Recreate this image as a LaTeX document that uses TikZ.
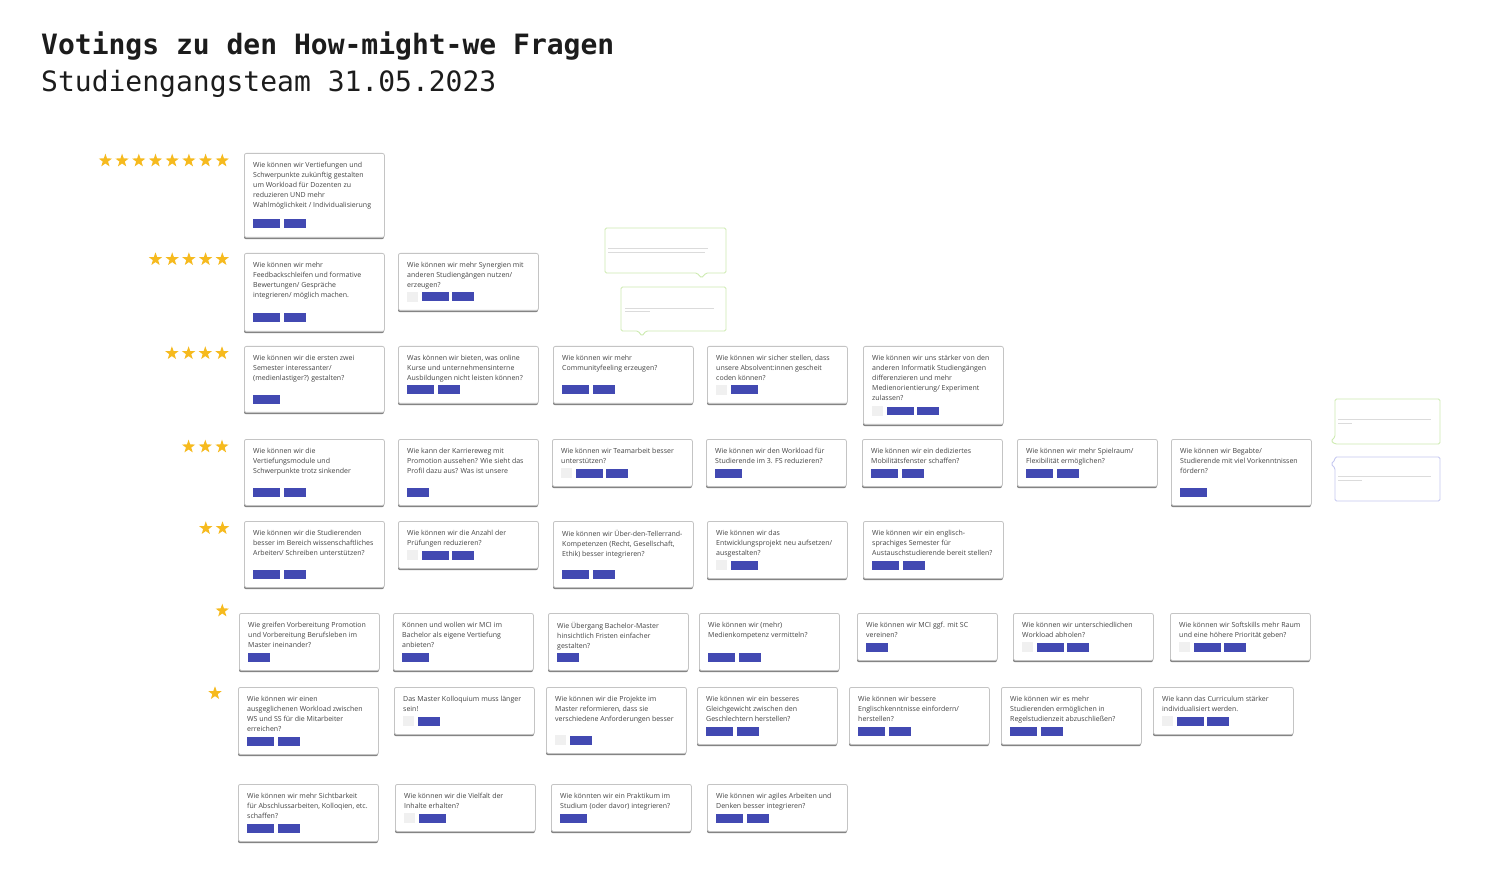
\documentclass[tikz,border=0pt]{standalone}
\usepackage{fontspec}
\setmonofont{DejaVu Sans Mono}
\newfontfamily\kartenfont{Open Sans}
\usepackage{tikz}
\usetikzlibrary{shapes.geometric,shadows}
\definecolor{stimmblau}{HTML}{4249B2}
\definecolor{leergrau}{HTML}{F0F0F0}
\definecolor{sterngelb}{HTML}{F6BA1E}
\definecolor{textgrau}{HTML}{444444}
\definecolor{kartenrand}{HTML}{C4C4C4}
\definecolor{blasegruen}{HTML}{CDEBB0}
\definecolor{blaselila}{HTML}{C4C7F0}
\definecolor{titelschwarz}{HTML}{1C1C1C}
\newcommand{\leer}{\textcolor{leergrau}{\rule[-0.5pt]{11pt}{10pt}}\hspace{3.5pt}}
\newcommand{\voll}{\textcolor{stimmblau}{\rule{27pt}{9pt}}\hspace{3.5pt}}
\newcommand{\halb}{\textcolor{stimmblau}{\rule{22pt}{9pt}}\hspace{3.5pt}}
\newcommand{\hmw}[6]{%
  \begin{scope}[shift={(#2,#3)}]
    \node[karte, minimum height=#4pt+13pt] (#1) at (0,0) {};
    \node[kartentext] (#1-text) at (9,9) {#5};
    \node[stimmen] (#1-votes) at (9,#4) {#6};
  \end{scope}}
\newcommand{\sterne}[4]{%
  \foreach \i in {1,...,#2} \node[stern] (#1-\i) at ({#3-16.7*(\i-1)},#4) {};}

\begin{document}
\begin{tikzpicture}[
    x=1pt, y=-1pt,
    karte/.style={
        rectangle, draw=kartenrand, fill=white, rounded corners=2pt,
        line width=0.8pt, minimum width=140pt, anchor=north west, inner sep=0pt,
        drop shadow={shadow xshift=-0.4pt, shadow yshift=-1.8pt, fill=black!60, opacity=0.8}
    },
    kartentext/.style={
        anchor=north west, inner sep=0pt, align=left,
        font=\kartenfont\fontsize{7}{10}\selectfont, text=textgrau
    },
    stimmen/.style={anchor=west, inner sep=0pt},
    stern/.style={star, star points=5, star point ratio=2.5, fill=sterngelb,
        draw=none, inner sep=0pt, minimum size=14pt},
    blase/.style={line width=0.9pt, rounded corners=1.5pt, fill=white},
    blasetext/.style={line width=0.9pt, black!14},
    titel/.style={anchor=base west, inner sep=0pt,
        font=\ttfamily\fontsize{28}{30}\selectfont, text=titelschwarz}
]
\fill[white] (0,0) rectangle (1486,874);
\useasboundingbox (0,0) rectangle (1486,874);

\node[titel] (titel) at (41,55) {\bfseries Votings zu den How-might-we Fragen};
\node[titel] (datum) at (41,92) {Studiengangsteam 31.05.2023};

\sterne{s8}{8}{222.3}{160.7}
\sterne{s5}{5}{222.3}{259.3}
\sterne{s4}{4}{222}{353.3}
\sterne{s3}{3}{222}{446.7}
\sterne{s2}{2}{222.5}{528.3}
\sterne{s1a}{1}{222.3}{610.7}
\sterne{s1b}{1}{215}{693.3}

\hmw{k8a}{244}{153}{71}{Wie können wir Vertiefungen und\\Schwerpunkte zukünftig gestalten\\um Workload für Dozenten zu\\reduzieren UND mehr\\Wahlmöglichkeit / Individualisierung}{\voll\halb}

\hmw{k5a}{244}{253}{65}{Wie können wir mehr\\Feedbackschleifen und formative\\Bewertungen/ Gespräche\\integrieren/ möglich machen.}{\voll\halb}
\hmw{k5b}{398}{253}{44}{Wie können wir mehr Synergien mit\\anderen Studiengängen nutzen/\\erzeugen?}{\leer\voll\halb}

\hmw{k4a}{244}{346}{53}{Wie können wir die ersten zwei\\Semester interessanter/\\(medienlastiger?) gestalten?}{\voll}
\hmw{k4b}{398}{346}{44}{Was können wir bieten, was online\\Kurse und unternehmensinterne\\Ausbildungen nicht leisten können?}{\voll\halb}
\hmw{k4c}{553}{346}{44}{Wie können wir mehr\\Communityfeeling erzeugen?}{\voll\halb}
\hmw{k4d}{707}{346}{44}{Wie können wir sicher stellen, dass\\unsere Absolvent:innen gescheit\\coden können?}{\leer\voll}
\hmw{k4e}{863}{346}{65}{Wie können wir uns stärker von den\\anderen Informatik Studiengängen\\differenzieren und mehr\\Medienorientierung/ Experiment\\zulassen?}{\leer\voll\halb}

\hmw{k3a}{244}{439}{53}{Wie können wir die\\Vertiefungsmodule und\\Schwerpunkte trotz sinkender}{\voll\halb}
\hmw{k3b}{398}{439}{53}{Wie kann der Karriereweg mit\\Promotion aussehen? Wie sieht das\\Profil dazu aus? Was ist unsere}{\halb}
\hmw{k3c}{552}{439}{34}{Wie können wir Teamarbeit besser\\unterstützen?}{\leer\voll\halb}
\hmw{k3d}{706}{439}{34}{Wie können wir den Workload für\\Studierende im 3. FS reduzieren?}{\voll}
\hmw{k3e}{862}{439}{34}{Wie können wir ein dediziertes\\Mobilitätsfenster schaffen?}{\voll\halb}
\hmw{k3f}{1017}{439}{34}{Wie können wir mehr Spielraum/\\Flexibilität ermöglichen?}{\voll\halb}
\hmw{k3g}{1171}{439}{53}{Wie können wir Begabte/\\Studierende mit viel Vorkenntnissen\\fördern?}{\voll}

\hmw{k2a}{244}{521}{53}{Wie können wir die Studierenden\\besser im Bereich wissenschaftliches\\Arbeiten/ Schreiben unterstützen?}{\voll\halb}
\hmw{k2b}{398}{521}{34}{Wie können wir die Anzahl der\\Prüfungen reduzieren?}{\leer\voll\halb}
\hmw{k2c}{553}{521}{53}{Wie können wir Über-den-Tellerrand-\\Kompetenzen (Recht, Gesellschaft,\\Ethik) besser integrieren?}{\voll\halb}
\hmw{k2d}{707}{521}{44}{Wie können wir das\\Entwicklungsprojekt neu aufsetzen/\\ausgestalten?}{\leer\voll}
\hmw{k2e}{863}{521}{44}{Wie können wir ein englisch-\\sprachiges Semester für\\Austauschstudierende bereit stellen?}{\voll\halb}

\hmw{k1a}{239}{613}{44}{Wie greifen Vorbereitung Promotion\\und Vorbereitung Berufsleben im\\Master ineinander?}{\halb}
\hmw{k1b}{393}{613}{44}{Können und wollen wir MCI im\\Bachelor als eigene Vertiefung\\anbieten?}{\voll}
\hmw{k1c}{548}{613}{44}{Wie Übergang Bachelor-Master\\hinsichtlich Fristen einfacher\\gestalten?}{\halb}
\hmw{k1d}{699}{613}{44}{Wie können wir (mehr)\\Medienkompetenz vermitteln?}{\voll\halb}
\hmw{k1e}{857}{613}{34}{Wie können wir MCI ggf. mit SC\\vereinen?}{\halb}
\hmw{k1f}{1013}{613}{34}{Wie können wir unterschiedlichen\\Workload abholen?}{\leer\voll\halb}
\hmw{k1g}{1170}{613}{34}{Wie können wir Softskills mehr Raum\\und eine höhere Priorität geben?}{\leer\voll\halb}

\hmw{k1h}{238}{687}{54}{Wie können wir einen\\ausgeglichenen Workload zwischen\\WS und SS für die Mitarbeiter\\erreichen?}{\voll\halb}
\hmw{k1i}{394}{687}{34}{Das Master Kolloquium muss länger\\sein!}{\leer\halb}
\hmw{k1j}{546}{687}{53}{Wie können wir die Projekte im\\Master reformieren, dass sie\\verschiedene Anforderungen besser}{\leer\halb}
\hmw{k1k}{697}{687}{44}{Wie können wir ein besseres\\Gleichgewicht zwischen den\\Geschlechtern herstellen?}{\voll\halb}
\hmw{k1l}{849}{687}{44}{Wie können wir bessere\\Englischkenntnisse einfordern/\\herstellen?}{\voll\halb}
\hmw{k1m}{1001}{687}{44}{Wie können wir es mehr\\Studierenden ermöglichen in\\Regelstudienzeit abzuschließen?}{\voll\halb}
\hmw{k1n}{1153}{687}{34}{Wie kann das Curriculum stärker\\individualisiert werden.}{\leer\voll\halb}

\hmw{k0a}{238}{784}{44}{Wie können wir mehr Sichtbarkeit\\für Abschlussarbeiten, Kolloqien, etc.\\schaffen?}{\voll\halb}
\hmw{k0b}{395}{784}{34}{Wie können wir die Vielfalt der\\Inhalte erhalten?}{\leer\voll}
\hmw{k0c}{551}{784}{34}{Wie könnten wir ein Praktikum im\\Studium (oder davor) integrieren?}{\voll}
\hmw{k0d}{707}{784}{34}{Wie können wir agiles Arbeiten und\\Denken besser integrieren?}{\voll\halb}

\draw[blase, draw=blasegruen] (605,228) -- (726,228) -- (726,273) -- (706,273) -- (701.5,278) -- (697,273) -- (605,273) -- cycle;
\draw[blasetext] (608,248) -- (708,248) (608,252.5) -- (705,252.5);
\draw[blase, draw=blasegruen] (621,287) -- (726,287) -- (726,331) -- (646,331) -- (642,336) -- (638,331) -- (621,331) -- cycle;
\draw[blasetext] (625,308) -- (714,308) (625,311.5) -- (650,311.5);
\draw[blase, draw=blasegruen] (1335,399) -- (1440,399) -- (1440,444) -- (1335,444) -- (1331,441) -- (1335,437) -- cycle;
\draw[blasetext] (1338,419.5) -- (1431,419.5) (1338,423.5) -- (1352,423.5);
\draw[blase, draw=blaselila] (1335,457) -- (1440,457) -- (1440,501) -- (1335,501) -- (1335,468) -- (1331,464) -- (1335,460) -- cycle;
\draw[blasetext] (1338,476.5) -- (1431,476.5) (1338,480) -- (1362,480);
\end{tikzpicture}
\end{document}
